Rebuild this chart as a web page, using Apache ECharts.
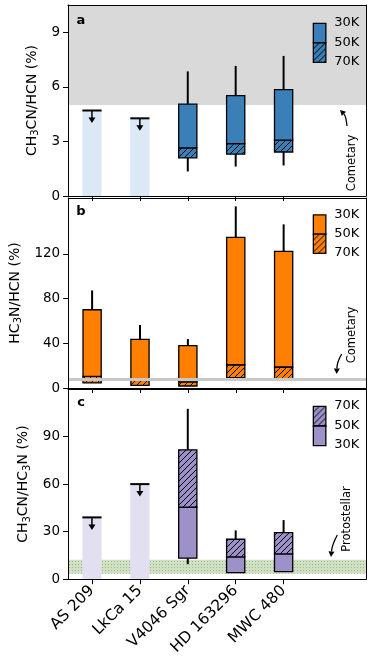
<!DOCTYPE html>
<html><head><meta charset="utf-8">
<script src="https://cdn.jsdelivr.net/npm/echarts@6/dist/echarts.min.js"></script>
<style>html,body{margin:0;padding:0;background:#fff}#c{width:374px;height:658px}</style>
</head><body><div id="c"></div>
<script>
// ---------- data ----------
const categories = ['AS 209', 'LkCa 15', 'V4046 Sgr', 'HD 163296', 'MWC 480'];

// panel a : CH3CN/HCN (%)
const aUpperLimit = [4.7, 4.27, null, null, null];
const a70K = [null, null, 2.1, 2.3, 2.42];
const a50K = [null, null, 2.65, 2.88, 3.07];
const a30K = [null, null, 5.05, 5.52, 5.85];
const aErrLow = [null, null, 1.35, 1.62, 1.68];
const aErrHigh = [null, null, 6.85, 7.15, 7.7];
const aCometary = [5, 10.5];
const aTicks = [0, 3, 6, 9];

// panel b : HC3N/HCN (%)
const b70K = [4.5, 2.3, 1.8, 9.2, 8.3];
const b50K = [10.4, 6.8, 5.4, 20.8, 18.8];
const b30K = [70, 43.5, 37.9, 134.8, 122.3];
const bErrLow = [4.5, 2.3, 1.8, 9.2, 8.3];
const bErrHigh = [87.3, 56.4, 43.8, 162.5, 146.4];
const bCometary = 8;
const bTicks = [0, 40, 80, 120];

// panel c : CH3CN/HC3N (%)
const cUpperLimit = [39, 60, null, null, null];
const c30K = [null, null, 13.3, 4.1, 4.8];
const c50K = [null, null, 45.4, 14.1, 16.0];
const c70K = [null, null, 81.6, 25.2, 29.4];
const cErrLow = [null, null, 9.5, 4.1, 4.8];
const cErrHigh = [null, null, 107.5, 30.8, 37.3];
const cProtostellar = [3.5, 12.3];
const cTicks = [0, 30, 60, 90];

// ---------- styles ----------
const FONT = 'DejaVu Sans';
const BLUE = '#3a7fb8', ORANGE = '#ff7f00', PURPLE = '#9e90c8';
const LIGHTBLUE = '#dbe9f6', LIGHTPURPLE = '#e2dff0';
const BOX_W = 0.38, LIM_W = 0.4;

function hatch(bg, fg, s) {
  const c = document.createElement('canvas'); c.width = s; c.height = s;
  const g = c.getContext('2d');
  g.fillStyle = bg; g.fillRect(0, 0, s, s);
  g.strokeStyle = fg; g.lineWidth = 1;
  g.beginPath();
  g.moveTo(-1, s + 1); g.lineTo(s + 1, -1);
  g.moveTo(-1, 1); g.lineTo(1, -1);
  g.moveTo(s - 1, s + 1); g.lineTo(s + 1, s - 1);
  g.stroke();
  return { image: c, repeat: 'repeat' };
}
function dots(bg, fg, s) {
  const c = document.createElement('canvas'); c.width = s; c.height = s;
  const g = c.getContext('2d');
  g.fillStyle = bg; g.fillRect(0, 0, s, s);
  g.fillStyle = fg; g.fillRect(0, 0, 1, 1);
  return { image: c, repeat: 'repeat' };
}
const hBlue = hatch(BLUE, '#000', 6), hOrange = hatch(ORANGE, '#000', 6), hPurple = hatch(PURPLE, '#000', 6);
const greenDots = dots('#cfe0c3', '#9dbb88', 3);

function boxData(lo, mid, hi, el, eh) {
  return categories.map((_, i) => [i, lo[i], mid[i], hi[i], el[i], eh[i]]).filter(d => d[1] != null);
}
function limData(lim) {
  return categories.map((_, i) => [i, lim[i]]).filter(d => d[1] != null);
}

function boxRender(lowerFill, upperFill) {
  return function (params, api) {
    const x = api.value(0);
    const lo = api.coord([x, api.value(1)]);
    const mid = api.coord([x, api.value(2)]);
    const hi = api.coord([x, api.value(3)]);
    const eLo = api.coord([x, api.value(4)]);
    const eHi = api.coord([x, api.value(5)]);
    const w = api.size([BOX_W, 0])[0];
    const x0 = lo[0] - w / 2;
    return {
      type: 'group',
      children: [
        { type: 'line', shape: { x1: hi[0], y1: hi[1], x2: hi[0], y2: eHi[1] }, style: { stroke: '#000', lineWidth: 2 } },
        { type: 'line', shape: { x1: lo[0], y1: lo[1], x2: lo[0], y2: eLo[1] }, style: { stroke: '#000', lineWidth: 2 } },
        { type: 'rect', shape: { x: x0, y: mid[1], width: w, height: lo[1] - mid[1] }, style: { fill: lowerFill, stroke: '#000', lineWidth: 1.3 } },
        { type: 'rect', shape: { x: x0, y: hi[1], width: w, height: mid[1] - hi[1] }, style: { fill: upperFill, stroke: '#000', lineWidth: 1.3 } }
      ]
    };
  };
}
function limRender(fill) {
  return function (params, api) {
    const x = api.value(0);
    const top = api.coord([x, api.value(1)]);
    const base = api.coord([x, 0]);
    const w = api.size([LIM_W, 0])[0];
    const cx = top[0], y = top[1];
    return {
      type: 'group',
      children: [
        { type: 'rect', shape: { x: cx - w / 2, y: y, width: w, height: base[1] - y }, style: { fill: fill } },
        { type: 'line', shape: { x1: cx - w / 2, y1: y, x2: cx + w / 2, y2: y }, style: { stroke: '#000', lineWidth: 2 } },
        { type: 'line', shape: { x1: cx, y1: y, x2: cx, y2: y + 8 }, style: { stroke: '#000', lineWidth: 1.5 } },
        { type: 'polygon', shape: { points: [[cx - 3.5, y + 7], [cx + 3.5, y + 7], [cx, y + 12.5]] }, style: { fill: '#000' } }
      ]
    };
  };
}

const grids = [
  { left: 68, right: 8, top: 5, height: 191 },
  { left: 68, right: 8, top: 198, height: 190 },
  { left: 68, right: 8, top: 389, height: 191 }
];

const catIdx = categories.map((_, i) => i);
const lineSt = { show: true, onZero: false, lineStyle: { color: '#000', width: 1 } };
function xAx(gi, showLabels) {
  return {
    type: 'value', gridIndex: gi, min: -0.5, max: 5.72, z: 10, position: 'bottom',
    splitLine: { show: false },
    axisLine: lineSt,
    axisTick: { show: true, length: 5, customValues: catIdx, lineStyle: { color: '#000', width: 1 } },
    axisLabel: {
      show: showLabels, customValues: catIdx, rotate: 45, margin: 9,
      fontFamily: FONT, fontSize: 15.5, color: '#000',
      formatter: v => categories[Math.round(v)] || ''
    }
  };
}
function xTop(gi) {
  return { type: 'value', gridIndex: gi, min: -0.5, max: 5.72, z: 10, position: 'top',
    splitLine: { show: false }, axisLine: lineSt, axisTick: { show: false }, axisLabel: { show: false } };
}
function yAx(gi, max, ticks, name, gap) {
  return {
    type: 'value', gridIndex: gi, min: 0, max: max, z: 10, position: 'left',
    splitLine: { show: false },
    axisLine: lineSt,
    axisTick: { show: true, length: 5, customValues: ticks, lineStyle: { color: '#000', width: 1 } },
    axisLabel: { customValues: ticks, margin: 8, fontFamily: FONT, fontSize: 13.5, color: '#000' },
    name: name, nameLocation: 'middle', nameGap: gap,
    nameTextStyle: {
      fontFamily: FONT, fontSize: 14, color: '#000',
      rich: {
        n: { fontFamily: FONT, fontSize: 14, color: '#000' },
        s: { fontFamily: FONT, fontSize: 10, color: '#000', padding: [7, 0, 0, 0] }
      }
    }
  };
}
function yRight(gi, max) {
  return { type: 'value', gridIndex: gi, min: 0, max: max, z: 10, position: 'right',
    splitLine: { show: false }, axisLine: lineSt, axisTick: { show: false }, axisLabel: { show: false } };
}

function legend(x, y, h, topFill, botFill, labels) {
  const w = 12.5;
  const els = [
    { type: 'rect', left: x, top: y, shape: { width: w, height: h / 2 }, style: { fill: topFill, stroke: '#000', lineWidth: 1.3 }, z: 20 },
    { type: 'rect', left: x, top: y + h / 2, shape: { width: w, height: h / 2 }, style: { fill: botFill, stroke: '#000', lineWidth: 1.3 }, z: 20 }
  ];
  labels.forEach((t, i) => els.push({
    type: 'text', x: x + 21.5, y: y + i * h / 2, z: 20,
    style: { text: t, font: '13px "' + FONT + '"', fill: '#000', verticalAlign: 'middle', align: 'left' }
  }));
  return els;
}
function rotText(x, y, t) {
  return { type: 'text', x: x, y: y, rotation: Math.PI / 2, z: 20,
    style: { text: t, font: '11.5px "' + FONT + '"', fill: '#000', align: 'center', verticalAlign: 'middle' } };
}
function curvedArrow(x1, y1, cx, cy, x2, y2) {
  const ang = Math.atan2(y2 - cy, x2 - cx);
  const L = 5.5, W = 3;
  const bx = x2 - L * Math.cos(ang), by = y2 - L * Math.sin(ang);
  const px = -Math.sin(ang) * W, py = Math.cos(ang) * W;
  return [
    { type: 'bezierCurve', z: 20, shape: { x1: x1, y1: y1, x2: bx, y2: by, cpx1: cx, cpy1: cy }, style: { stroke: '#000', lineWidth: 1.3, fill: null } },
    { type: 'polygon', z: 20, shape: { points: [[x2, y2], [bx + px, by + py], [bx - px, by - py]] }, style: { fill: '#000' } }
  ];
}
function panelLabel(x, y, t) {
  return { type: 'text', x: x, y: y, z: 20, style: { text: t, font: 'bold 13px "' + FONT + '"', fill: '#000', align: 'center', verticalAlign: 'middle' } };
}

const graphic = [].concat(
  legend(312.7, 22.7, 39, BLUE, hBlue, ['30K', '50K', '70K']),
  legend(312.7, 214.3, 38.4, ORANGE, hOrange, ['30K', '50K', '70K']),
  legend(312.7, 405.7, 39.3, hPurple, PURPLE, ['70K', '50K', '30K']),
  [rotText(352, 163, 'Cometary'), rotText(352, 335, 'Cometary'), rotText(347, 519, 'Protostellar')],
  curvedArrow(347, 126, 346, 116, 340, 110),
  curvedArrow(341.7, 354, 337, 362, 336.7, 374),
  curvedArrow(337.3, 535, 332, 545, 331, 557),
  [panelLabel(81, 21, 'a'), panelLabel(81, 212, 'b'), panelLabel(81, 403, 'c')]
);

const option = {
  animation: false,
  backgroundColor: '#fff',
  grid: grids,
  xAxis: [xAx(0, false), xTop(0), xAx(1, false), xTop(1), xAx(2, true), xTop(2)],
  yAxis: [
    yAx(0, 10.5, aTicks, '{n|CH}{s|3}{n|CN/HCN (%)}', 25), yRight(0, 10.5),
    yAx(1, 170, bTicks, '{n|HC}{s|3}{n|N/HCN (%)}', 43), yRight(1, 170),
    yAx(2, 120, cTicks, '{n|CH}{s|3}{n|CN/HC}{s|3}{n|N (%)}', 32), yRight(2, 120)
  ],
  graphic: graphic,
  series: [
    { type: 'line', xAxisIndex: 0, yAxisIndex: 0, data: [], z: 1, silent: true,
      markArea: { silent: true, itemStyle: { color: '#d9d9d9' }, data: [[{ yAxis: aCometary[0] }, { yAxis: aCometary[1] }]] } },
    { type: 'custom', xAxisIndex: 0, yAxisIndex: 0, z: 3, renderItem: limRender(LIGHTBLUE), data: limData(aUpperLimit) },
    { type: 'custom', xAxisIndex: 0, yAxisIndex: 0, z: 3, renderItem: boxRender(hBlue, BLUE), data: boxData(a70K, a50K, a30K, aErrLow, aErrHigh) },

    { type: 'line', xAxisIndex: 2, yAxisIndex: 2, data: [], z: 1, silent: true,
      markLine: { silent: true, symbol: 'none', label: { show: false }, lineStyle: { color: '#c8c8c8', width: 3, type: 'solid' }, data: [{ yAxis: bCometary }] } },
    { type: 'custom', xAxisIndex: 2, yAxisIndex: 2, z: 3, renderItem: boxRender(hOrange, ORANGE), data: boxData(b70K, b50K, b30K, bErrLow, bErrHigh) },

    { type: 'line', xAxisIndex: 4, yAxisIndex: 4, data: [], z: 1, silent: true,
      markArea: { silent: true, itemStyle: { color: greenDots }, data: [[{ yAxis: cProtostellar[0] }, { yAxis: cProtostellar[1] }]] } },
    { type: 'custom', xAxisIndex: 4, yAxisIndex: 4, z: 3, renderItem: limRender(LIGHTPURPLE), data: limData(cUpperLimit) },
    { type: 'custom', xAxisIndex: 4, yAxisIndex: 4, z: 3, renderItem: boxRender(PURPLE, hPurple), data: boxData(c30K, c50K, c70K, cErrLow, cErrHigh) }
  ]
};
const chart = echarts.init(document.getElementById('c'), null, { renderer: 'canvas' });
chart.setOption(option);
</script>
</body></html>
